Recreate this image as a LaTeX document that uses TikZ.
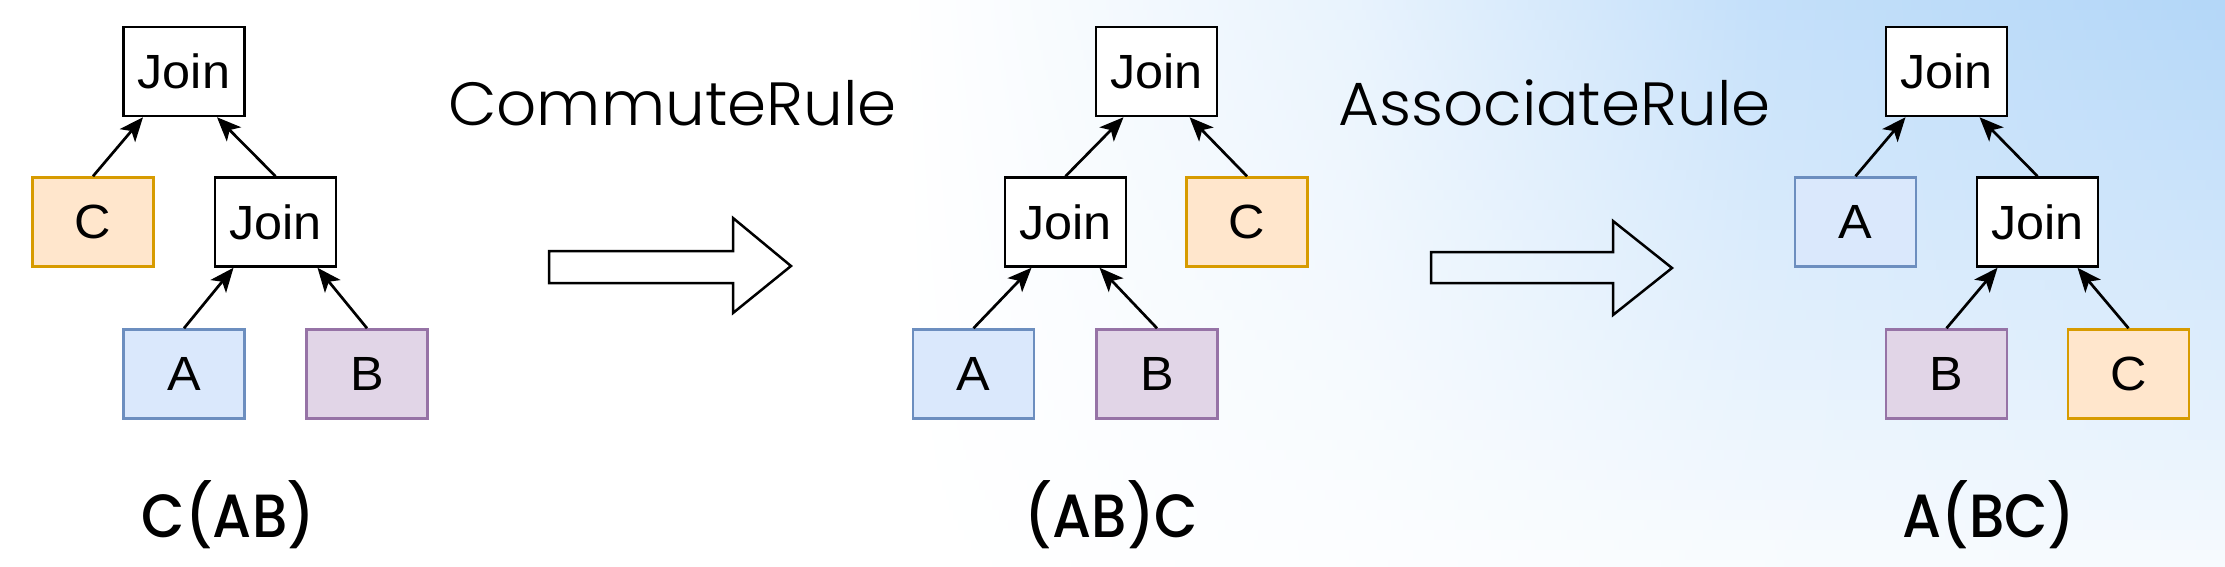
\documentclass[tikz,border=0pt]{standalone}
\usepackage{fontspec}
\usetikzlibrary{arrows.meta}
\newfontfamily\boxfont[FakeStretch=1.05]{Liberation Sans}
\IfFontExistsTF{Poppins Light}
  {\newfontfamily\titlefont[FakeStretch=1.03]{Poppins Light}}
  {\newfontfamily\titlefont[FakeStretch=1.03]{Poppins}}
\IfFontExistsTF{Poppins Medium}
  {\newfontfamily\labfont[FakeStretch=0.92]{Poppins Medium}}
  {\newfontfamily\labfont[FakeBold=1.2,FakeStretch=0.92]{Poppins}}
\definecolor{bgblue}{HTML}{B2D6F8}
\definecolor{blueF}{HTML}{DAE8FC}\definecolor{blueD}{HTML}{6C8EBF}
\definecolor{orangeF}{HTML}{FFE6CC}\definecolor{orangeD}{HTML}{D79B00}
\definecolor{purpleF}{HTML}{E1D5E7}\definecolor{purpleD}{HTML}{9673A6}
\begin{document}
\begin{tikzpicture}[x=1pt,y=-1pt,
  box/.style={draw, line width=2.5pt, minimum width=121pt, minimum height=89pt, inner sep=0pt, font=\boxfont\fontsize{48}{48}\selectfont},
  joinbox/.style={box, fill=white, draw=black},
  abox/.style={box, fill=blueF, draw=blueD},
  bbox/.style={box, fill=purpleF, draw=purpleD},
  cbox/.style={box, fill=orangeF, draw=orangeD},
  edge/.style={line width=2.7pt, -{Stealth[length=24pt,width=20pt,inset=6pt]}},
  bigarrow/.style={draw=black, line width=2.5pt, line join=miter},
  title/.style={font=\titlefont\fontsize{61}{61}\selectfont, inner sep=0pt, anchor=base west},
  lab/.style={font=\labfont\fontsize{61}{61}\selectfont, inner sep=0pt, anchor=base}]
\useasboundingbox (0,0) rectangle (2225,566);
% background: white, with a light blue glow towards the top right
\fill[white] (-20,-20) rectangle (2245,586);
\foreach \i in {0,...,56}{
  \pgfmathsetmacro{\v}{1-0.9*(\i+0.5)/57}
  \pgfmathsetmacro{\ca}{30*\v}
  \pgfmathsetmacro{\cb}{78*\v}
  \pgfmathsetmacro{\cc}{100*\v}
  \pgfmathsetmacro{\ya}{\i*10}
  \pgfmathsetmacro{\yb}{\i*10+10.6}
  \shade[left color=white, right color=bgblue!\ca!white] (900,\ya) rectangle (1356,\yb);
  \shade[left color=bgblue!\ca!white, right color=bgblue!\cb!white] (1355,\ya) rectangle (1761,\yb);
  \shade[left color=bgblue!\cb!white, right color=bgblue!\cc!white] (1760,\ya) rectangle (2245,\yb);
}
% tree 1: C(AB)
\node[joinbox] (t1j) at (184,71.5) {Join};
\node[cbox] (t1c) at (93,222) {C};
\node[joinbox] (t1k) at (275.5,222) {Join};
\node[abox] (t1a) at (184,374) {A};
\node[bbox] (t1b) at (367,374) {B};
\draw[edge] (t1c.north) -- ([xshift=-41pt]t1j.south);
\draw[edge] (t1k.north) -- ([xshift=33pt]t1j.south);
\draw[edge] (t1a.north) -- ([xshift=-42pt]t1k.south);
\draw[edge] (t1b.north) -- ([xshift=42pt]t1k.south);
\node[lab] (l1) at (228.5,537) {C(AB)};
% rule 1
\node[title] (r1) at (448,125) {CommuteRule};
\draw[bigarrow] (549,251) -- (733,251) -- (733,218) -- (791,266) -- (733,313) -- (733,283) -- (549,283) -- cycle;
% tree 2: (AB)C
\node[joinbox] (t2j) at (1156.5,71.5) {Join};
\node[joinbox] (t2k) at (1065.5,222) {Join};
\node[cbox] (t2c) at (1247,222) {C};
\node[abox] (t2a) at (973.5,374) {A};
\node[bbox] (t2b) at (1157,374) {B};
\draw[edge] (t2k.north) -- ([xshift=-33pt]t2j.south);
\draw[edge] (t2c.north) -- ([xshift=33pt]t2j.south);
\draw[edge] (t2a.north) -- ([xshift=-34pt]t2k.south);
\draw[edge] (t2b.north) -- ([xshift=34pt]t2k.south);
\node[lab] (l2) at (1111.5,537) {(AB)C};
% rule 2
\node[title] (r2) at (1338,125) {AssociateRule};
\draw[bigarrow] (1431,252) -- (1613,252) -- (1613,221) -- (1672,268) -- (1613,315) -- (1613,283) -- (1431,283) -- cycle;
% tree 3: A(BC)
\node[joinbox] (t3j) at (1946.5,71.5) {Join};
\node[abox] (t3a) at (1855.5,222) {A};
\node[joinbox] (t3k) at (2037.5,222) {Join};
\node[bbox] (t3b) at (1946.5,374) {B};
\node[cbox] (t3c) at (2128.5,374) {C};
\draw[edge] (t3a.north) -- ([xshift=-41pt]t3j.south);
\draw[edge] (t3k.north) -- ([xshift=33pt]t3j.south);
\draw[edge] (t3b.north) -- ([xshift=-40pt]t3k.south);
\draw[edge] (t3c.north) -- ([xshift=40pt]t3k.south);
\node[lab] (l3) at (1989,537) {A(BC)};
\end{tikzpicture}
\end{document}
